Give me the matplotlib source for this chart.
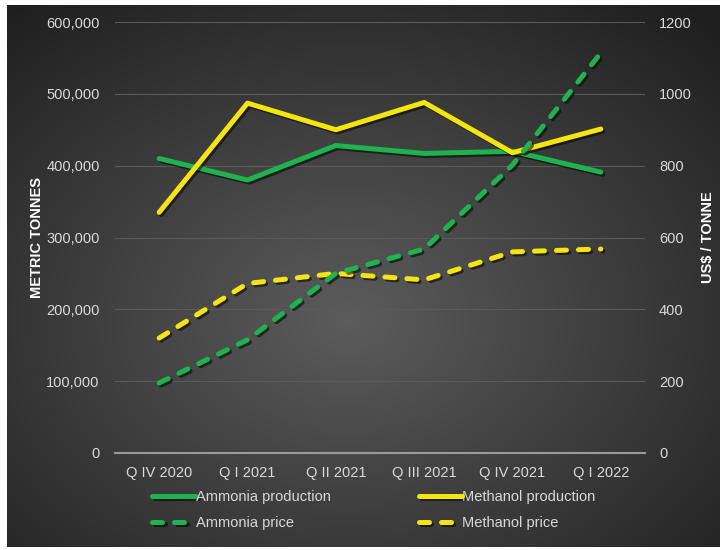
import numpy as np
import matplotlib
matplotlib.use("Agg")
import matplotlib.pyplot as plt
import matplotlib.patheffects as pe
from matplotlib.ticker import FuncFormatter

plt.rcParams['font.family'] = ['Liberation Sans', 'DejaVu Sans']

quarters = ['Q IV 2020', 'Q I 2021', 'Q II 2021', 'Q III 2021', 'Q IV 2021', 'Q I 2022']
ammonia_prod = [410000, 380000, 428000, 417000, 420000, 391000]
methanol_prod = [335000, 487000, 450000, 488000, 418000, 451000]
ammonia_price = [195, 315, 500, 568, 802, 1114]
methanol_price = [320, 472, 500, 482, 560, 568]

green = '#1db34f'
yellow = '#f4e50c'
txt = '#d9d9d9'

fig = plt.figure(figsize=(7.25, 5.5), dpi=100)

# radial gradient background panel
bg = fig.add_axes([7 / 725, 3 / 550, 713 / 725, 542 / 550])
yy, xx = np.mgrid[0:1:300j, 0:1:400j]
r = np.sqrt(((xx - 0.48) / 0.75) ** 2 + ((yy - 0.42) / 0.75) ** 2)
shade = np.clip(0.36 - 0.24 * r, 0.12, 0.36)
bg.imshow(np.dstack([shade] * 3), extent=[0, 1, 0, 1], aspect='auto', origin='lower')
bg.axis('off')

ax = fig.add_axes([115 / 725, 97 / 550, 530 / 725, 431 / 550])
ax.patch.set_alpha(0)
ax2 = ax.twinx()

x = np.arange(len(quarters))
shadow = [pe.SimpleLineShadow(offset=(1.5, -1.5), shadow_color='black', alpha=0.55), pe.Normal()]

l1, = ax.plot(x, ammonia_prod, color=green, lw=3.6, solid_capstyle='round',
              solid_joinstyle='round', path_effects=shadow, label='Ammonia production')
l2, = ax.plot(x, methanol_prod, color=yellow, lw=3.6, solid_capstyle='round',
              solid_joinstyle='round', path_effects=shadow, label='Methanol production')
l4, = ax2.plot(x, methanol_price, color=yellow, lw=3.6, dashes=(2, 2.4),
               dash_capstyle='round', path_effects=shadow, label='Methanol price')
l3, = ax2.plot(x, ammonia_price, color=green, lw=3.6, dashes=(2, 2.4),
               dash_capstyle='round', path_effects=shadow, label='Ammonia price')

ax.set_xlim(-0.5, 5.5)
ax.set_ylim(0, 600000)
ax2.set_ylim(0, 1200)
ax.set_yticks(np.arange(0, 600001, 100000))
ax2.set_yticks(np.arange(0, 1201, 200))
ax.yaxis.set_major_formatter(FuncFormatter(lambda v, p: f'{int(v):,}'))
ax.set_xticks(x)
ax.set_xticklabels(quarters)

ax.grid(axis='y', color='#5a5a5a', lw=0.8)
ax.set_axisbelow(True)
for a in (ax, ax2):
    for s in a.spines.values():
        s.set_visible(False)
    a.tick_params(length=0, labelsize=10.5, colors=txt)
ax.spines['bottom'].set_visible(True)
ax.spines['bottom'].set_color('#9a9a9a')
ax.spines['bottom'].set_linewidth(1.5)
ax.tick_params(axis='y', pad=11)
ax.tick_params(axis='x', pad=9)
ax2.tick_params(axis='y', pad=10)

ax.set_ylabel('METRIC TONNES', color='white', fontweight='bold', fontsize=10.5, labelpad=2)
ax2.set_ylabel('US$ / TONNE', color='white', fontweight='bold', fontsize=10.5, labelpad=7)

fig.legend(handles=[l1, l3, l2, l4], ncol=2, frameon=False, loc='center',
           bbox_to_anchor=(374 / 725, 1 - 510 / 550), fontsize=10.5, labelcolor=txt,
           handlelength=3.0, handletextpad=0.0, columnspacing=6.0, labelspacing=0.8)

fig.savefig('out.png', dpi=100)
